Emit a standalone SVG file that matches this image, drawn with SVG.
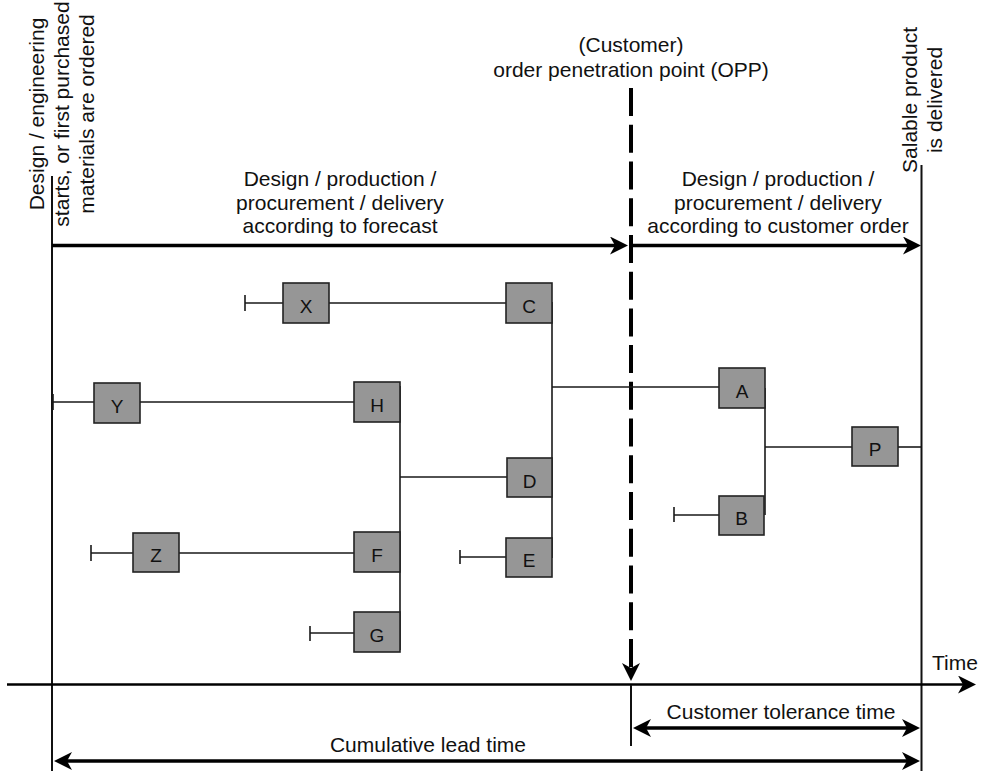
<svg xmlns="http://www.w3.org/2000/svg" width="981" height="771" viewBox="0 0 981 771">
  <style>
    text { font-family: "Liberation Sans", Arial, sans-serif; fill: #111; }
    .lbl { font-size: 21px; text-anchor: middle; }
    .node rect { fill: #969696; stroke: #222; stroke-width: 1.6; }
    .node text { font-size: 19px; text-anchor: middle; }
    .conn { stroke: #1a1a1a; stroke-width: 1.6; fill: none; }
    .frame { stroke: #111; stroke-width: 2; fill: none; }
    .flow { stroke: #000; stroke-width: 3.5; fill: none; }
    .axis { stroke: #000; stroke-width: 2.5; fill: none; }
    .opp { stroke: #000; stroke-width: 4; fill: none; stroke-dasharray: 28 8.73; }
  </style>
  <defs>
    <marker id="head" viewBox="0 0 18 18" markerWidth="18" markerHeight="18" refX="10" refY="9" orient="auto-start-reverse" markerUnits="userSpaceOnUse">
      <path d="M18,9 L0,0 L5,9 L0,18 Z" fill="#000"/>
    </marker>
  </defs>

  <!-- time frame: start / delivery lines, time axis, OPP -->
  <g id="frame">
    <line class="frame" x1="52" y1="176" x2="52" y2="771"/>
    <line class="frame" x1="921.5" y1="165" x2="921.5" y2="771"/>
    <line class="axis" x1="7" y1="684.5" x2="968" y2="684.5" marker-end="url(#head)"/>
    <line class="opp" x1="631" y1="88" x2="631" y2="673" marker-end="url(#head)"/>
    <line class="frame" x1="631" y1="685" x2="631" y2="746"/>
    <line class="flow" x1="52" y1="245.5" x2="620" y2="245.5" marker-end="url(#head)"/>
    <line class="flow" x1="633" y1="245.5" x2="913" y2="245.5" marker-end="url(#head)"/>
    <line class="flow" x1="641" y1="728" x2="912" y2="728" marker-start="url(#head)" marker-end="url(#head)"/>
    <line class="flow" x1="62" y1="761" x2="912" y2="761" marker-start="url(#head)" marker-end="url(#head)"/>
  </g>

  <!-- labels -->
  <g id="labels">
    <g transform="translate(0,114) rotate(-90)">
      <text class="lbl" x="0" y="44">Design / engineering</text>
      <text class="lbl" x="0" y="69">starts, or first purchased</text>
      <text class="lbl" x="0" y="94">materials are ordered</text>
    </g>
    <g transform="translate(0,100) rotate(-90)">
      <text class="lbl" x="0" y="916.5">Salable product</text>
      <text class="lbl" x="0" y="941.5">is delivered</text>
    </g>
    <text class="lbl" x="631" y="52">(Customer)</text>
    <text class="lbl" x="631" y="77">order penetration point (OPP)</text>
    <text class="lbl" x="340" y="186">Design / production /</text>
    <text class="lbl" x="340" y="209.5">procurement / delivery</text>
    <text class="lbl" x="340" y="233">according to forecast</text>
    <text class="lbl" x="778" y="186">Design / production /</text>
    <text class="lbl" x="778" y="209.5">procurement / delivery</text>
    <text class="lbl" x="778" y="233">according to customer order</text>
    <text class="lbl" x="955" y="670">Time</text>
    <text class="lbl" x="781" y="719">Customer tolerance time</text>
    <text class="lbl" x="428" y="752">Cumulative lead time</text>
  </g>

  <!-- product structure connectors -->
  <g id="connectors">
    <path class="conn" d="M245,295 V311 M245,303 H283 M329,303 H506"/>
    <path class="conn" d="M53,394 V410 M53,402 H94 M140,402 H354"/>
    <path class="conn" d="M91,545 V561 M91,553 H133 M179,553 H354"/>
    <path class="conn" d="M310,626 V641 M310,633 H354"/>
    <path class="conn" d="M460,550 V564 M460,557 H506"/>
    <path class="conn" d="M674,507 V522 M674,515 H719"/>
    <path class="conn" d="M400,386 V650 M400,477 H507"/>
    <path class="conn" d="M552,302 V558 M552,387 H719"/>
    <path class="conn" d="M765,388 V515 M765,447 H852"/>
    <path class="conn" d="M898,447 H921"/>
  </g>

  <!-- items -->
  <g id="node-X" class="node"><rect x="283" y="283" width="46" height="40"/><text x="306" y="312.5">X</text></g>
  <g id="node-C" class="node"><rect x="506" y="283" width="46" height="40"/><text x="529" y="312.5">C</text></g>
  <g id="node-Y" class="node"><rect x="94" y="383" width="46" height="40"/><text x="117" y="412.5">Y</text></g>
  <g id="node-H" class="node"><rect x="354" y="382" width="46" height="40"/><text x="377" y="411.5">H</text></g>
  <g id="node-D" class="node"><rect x="507" y="458" width="45" height="39"/><text x="529.5" y="487.5">D</text></g>
  <g id="node-Z" class="node"><rect x="133" y="533" width="46" height="39"/><text x="156" y="562">Z</text></g>
  <g id="node-F" class="node"><rect x="354" y="532" width="46" height="40"/><text x="377" y="561.5">F</text></g>
  <g id="node-E" class="node"><rect x="506" y="538" width="46" height="39"/><text x="529" y="567">E</text></g>
  <g id="node-G" class="node"><rect x="354" y="612" width="46" height="40"/><text x="377" y="641.5">G</text></g>
  <g id="node-A" class="node"><rect x="719" y="368" width="46" height="40"/><text x="742" y="397.5">A</text></g>
  <g id="node-B" class="node"><rect x="719" y="496" width="45" height="39"/><text x="741.5" y="525">B</text></g>
  <g id="node-P" class="node"><rect x="852" y="427" width="46" height="39"/><text x="875" y="456">P</text></g>
</svg>
